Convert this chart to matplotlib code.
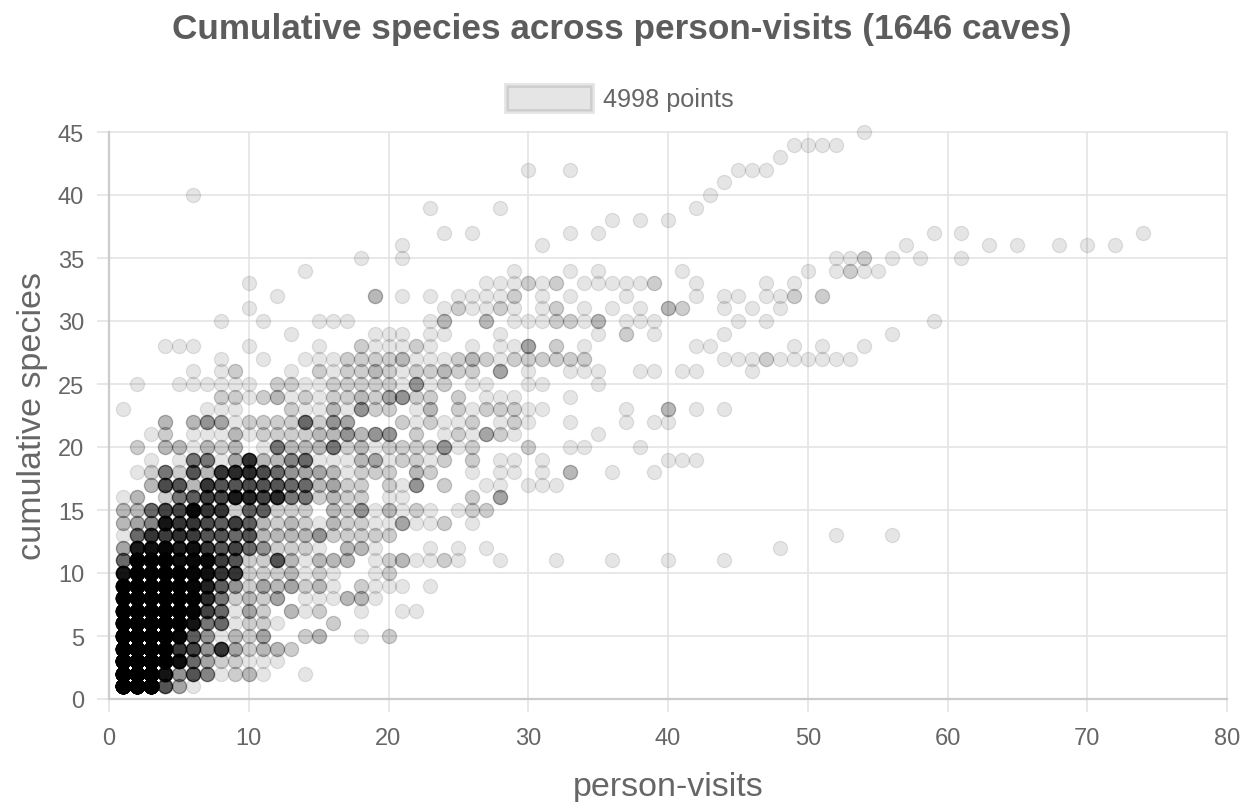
from matplotlib import pyplot as plt
from matplotlib.patches import Patch
import matplotlib as mpl

mpl.rcParams['font.family'] = ['Liberation Sans', 'DejaVu Sans']

# values: per species level, the person-visits and how many points overlap there
visits_01 = [1, 2, 3, 4, 5, 6]
counts_01 = [130, 130, 130, 10, 4, 1]
visits_02 = [1, 2, 3, 4, 5, 6, 7, 8, 9, 10, 11, 14]
counts_02 = [110, 110, 90, 22, 5, 10, 6, 1, 2, 3, 1, 1]
visits_03 = [1, 2, 3, 4, 5, 6, 7, 8, 9, 10, 11, 12]
counts_03 = [100, 100, 100, 40, 25, 8, 4, 2, 2, 1, 1, 1]
visits_04 = [1, 2, 3, 4, 5, 6, 7, 8, 9, 10, 11, 12, 13]
counts_04 = [85, 85, 85, 40, 14, 12, 5, 14, 4, 2, 3, 3, 2]
visits_05 = [1, 2, 3, 4, 5, 6, 7, 8, 9, 10, 11, 14, 15, 18, 20]
counts_05 = [75, 75, 75, 70, 30, 9, 5, 1, 3, 2, 4, 2, 3, 1, 2]
visits_06 = [1, 2, 3, 4, 5, 6, 7, 8, 9, 10, 11, 12, 16]
counts_06 = [65, 65, 65, 70, 40, 22, 7, 8, 1, 2, 2, 1, 2]
visits_07 = [1, 2, 3, 4, 5, 6, 7, 8, 9, 10, 11, 13, 14, 15, 18, 21, 22]
counts_07 = [55, 55, 55, 70, 40, 32, 12, 8, 1, 4, 2, 3, 1, 2, 1, 1, 1]
visits_08 = [1, 2, 3, 4, 5, 6, 7, 8, 9, 10, 11, 12, 14, 15, 16, 17, 18, 19]
counts_08 = [50, 50, 50, 60, 45, 35, 16, 7, 2, 3, 2, 4, 1, 1, 1, 3, 3, 1]
visits_09 = [1, 2, 3, 4, 5, 6, 7, 8, 9, 10, 11, 12, 13, 14, 15, 16, 18, 19, 20, 21, 23]
counts_09 = [40, 60, 55, 55, 40, 30, 18, 9, 5, 2, 4, 3, 4, 2, 3, 1, 2, 1, 1, 1, 1]
visits_10 = [1, 2, 3, 4, 5, 6, 7, 8, 9, 10, 11, 12, 13, 14, 15, 16, 19, 20]
counts_10 = [22, 50, 45, 45, 45, 30, 24, 14, 14, 2, 2, 2, 3, 1, 2, 1, 1, 2]
visits_11 = [1, 2, 3, 4, 5, 6, 7, 8, 9, 10, 11, 12, 13, 14, 15, 16, 17, 19, 20, 21, 22, 23, 24, 25, 28, 32, 36, 40, 44]
counts_11 = [8, 50, 40, 40, 25, 28, 28, 13, 10, 2, 2, 10, 3, 1, 3, 3, 3, 1, 2, 3, 1, 1, 2, 1, 1, 1, 1, 1, 1]
visits_12 = [1, 2, 3, 4, 5, 6, 7, 8, 9, 10, 11, 12, 13, 14, 15, 17, 18, 19, 23, 25, 27, 48]
counts_12 = [4, 20, 24, 30, 20, 24, 14, 10, 12, 8, 5, 2, 2, 2, 1, 3, 3, 1, 1, 1, 1, 1]
visits_13 = [1, 2, 3, 4, 5, 6, 7, 8, 9, 10, 11, 12, 13, 14, 15, 16, 17, 18, 19, 20, 52, 56]
counts_13 = [1, 8, 14, 13, 15, 13, 10, 10, 8, 10, 3, 3, 3, 3, 5, 2, 2, 2, 2, 2, 1, 1]
visits_14 = [1, 2, 3, 4, 5, 6, 7, 8, 9, 10, 11, 12, 13, 14, 15, 16, 17, 18, 19, 20, 21, 22, 23, 24, 26]
counts_14 = [3, 4, 6, 22, 14, 14, 11, 9, 13, 9, 3, 2, 3, 2, 1, 3, 2, 2, 1, 1, 4, 1, 1, 2, 1]
visits_15 = [1, 2, 3, 4, 5, 6, 7, 8, 9, 10, 11, 12, 13, 14, 16, 17, 18, 19, 20, 21, 22, 23, 25, 26, 27]
counts_15 = [3, 3, 8, 12, 12, 28, 14, 14, 2, 9, 9, 2, 2, 2, 3, 2, 5, 1, 3, 1, 2, 1, 1, 2, 2]
visits_16 = [1, 2, 4, 5, 6, 7, 8, 9, 10, 11, 12, 13, 14, 15, 16, 17, 18, 20, 21, 26, 28]
counts_16 = [1, 3, 2, 7, 9, 13, 12, 20, 17, 12, 16, 7, 7, 2, 3, 2, 2, 1, 1, 2, 4]
visits_17 = [3, 4, 5, 6, 7, 8, 9, 10, 11, 12, 13, 14, 15, 16, 17, 18, 20, 21, 22, 24, 27, 28, 30, 31, 32]
counts_17 = [3, 11, 10, 3, 14, 10, 10, 11, 10, 10, 8, 8, 3, 4, 2, 2, 2, 1, 5, 2, 1, 1, 1, 1, 1]
visits_18 = [2, 3, 4, 5, 6, 7, 8, 9, 10, 11, 12, 13, 14, 15, 16, 17, 18, 19, 20, 22, 23, 26, 28, 29, 31, 33, 36, 39]
counts_18 = [1, 2, 7, 2, 10, 3, 14, 16, 16, 11, 8, 5, 4, 4, 3, 1, 2, 2, 2, 3, 2, 1, 1, 1, 1, 3, 1, 1]
visits_19 = [3, 5, 6, 7, 8, 9, 10, 11, 12, 13, 14, 15, 16, 17, 18, 19, 20, 21, 22, 23, 24, 26, 28, 29, 31, 40, 41, 42]
counts_19 = [1, 1, 7, 7, 1, 4, 15, 3, 3, 6, 8, 1, 1, 1, 3, 4, 1, 2, 2, 1, 2, 2, 1, 1, 1, 1, 1, 1]
visits_20 = [2, 4, 5, 6, 7, 8, 9, 11, 12, 13, 14, 15, 16, 17, 18, 19, 20, 21, 22, 23, 24, 25, 26, 30, 33, 34, 38]
counts_20 = [2, 3, 3, 1, 3, 2, 3, 1, 7, 3, 3, 3, 7, 2, 3, 1, 2, 2, 2, 2, 5, 1, 2, 2, 1, 1, 1]
visits_21 = [3, 4, 6, 7, 8, 9, 10, 11, 12, 13, 14, 15, 16, 17, 18, 19, 20, 22, 24, 25, 26, 27, 28, 29, 35]
counts_21 = [1, 2, 1, 1, 1, 3, 1, 2, 2, 2, 2, 3, 3, 5, 3, 5, 5, 2, 1, 2, 1, 4, 2, 1, 1]
visits_22 = [4, 6, 7, 8, 9, 10, 11, 12, 13, 14, 15, 16, 17, 21, 22, 23, 24, 25, 26, 28, 29, 30, 33, 37, 39, 40]
counts_22 = [3, 3, 5, 4, 1, 2, 2, 2, 2, 8, 2, 5, 4, 2, 1, 2, 1, 1, 2, 1, 2, 1, 1, 1, 1, 1]
visits_23 = [1, 7, 8, 9, 13, 14, 15, 16, 17, 18, 19, 20, 22, 23, 25, 26, 27, 28, 29, 30, 31, 37, 40, 42, 44]
counts_23 = [1, 1, 1, 1, 2, 1, 1, 3, 1, 5, 2, 2, 1, 3, 2, 1, 2, 2, 2, 1, 1, 1, 3, 1, 1]
visits_24 = [8, 9, 10, 11, 12, 13, 14, 15, 16, 17, 18, 19, 20, 21, 22, 23, 25, 27, 28, 29, 33]
counts_24 = [2, 2, 1, 2, 3, 1, 2, 1, 2, 2, 3, 2, 4, 5, 2, 2, 2, 1, 1, 1, 1]
visits_25 = [2, 5, 6, 7, 8, 9, 10, 12, 13, 14, 15, 16, 17, 18, 19, 20, 21, 22, 23, 24, 26, 27, 30, 31, 35]
counts_25 = [1, 1, 1, 1, 1, 1, 1, 2, 2, 1, 1, 2, 2, 2, 2, 2, 1, 5, 1, 2, 1, 1, 1, 1, 1]
visits_26 = [6, 8, 9, 13, 15, 16, 17, 18, 19, 20, 21, 22, 23, 24, 25, 26, 28, 30, 33, 34, 35, 38, 39, 41, 42, 46]
counts_26 = [1, 1, 2, 1, 2, 1, 2, 2, 3, 2, 1, 2, 2, 3, 2, 2, 4, 1, 1, 1, 1, 1, 1, 1, 1, 1]
visits_27 = [8, 11, 14, 15, 16, 17, 18, 19, 20, 21, 22, 23, 24, 25, 26, 27, 28, 29, 30, 31, 32, 33, 34, 44, 45, 46, 47, 48, 49, 50, 51, 52, 53]
counts_27 = [1, 1, 1, 1, 1, 2, 2, 2, 2, 3, 1, 1, 1, 2, 3, 2, 1, 2, 2, 2, 2, 2, 2, 1, 1, 1, 2, 1, 1, 1, 1, 1, 1]
visits_28 = [4, 5, 6, 10, 15, 18, 19, 20, 21, 22, 23, 26, 28, 29, 30, 32, 34, 42, 43, 49, 51, 54]
counts_28 = [1, 1, 1, 1, 1, 2, 1, 1, 1, 2, 1, 1, 1, 1, 4, 2, 1, 1, 1, 1, 1, 1]
visits_29 = [13, 19, 20, 21, 23, 24, 28, 35, 37, 39, 44, 56]
counts_29 = [1, 1, 1, 1, 1, 1, 1, 1, 2, 1, 1, 1]
visits_30 = [8, 11, 15, 16, 17, 23, 24, 27, 29, 30, 31, 32, 33, 34, 35, 37, 38, 39, 45, 47, 59]
counts_30 = [1, 1, 1, 1, 1, 1, 3, 3, 1, 1, 1, 2, 2, 1, 3, 1, 1, 1, 1, 1, 1]
visits_31 = [10, 24, 25, 26, 27, 28, 29, 31, 32, 34, 36, 38, 40, 41, 44, 46, 48]
counts_31 = [1, 1, 2, 1, 1, 2, 1, 1, 2, 1, 1, 1, 3, 2, 1, 1, 1]
visits_32 = [12, 19, 21, 23, 25, 26, 27, 28, 29, 31, 33, 37, 42, 44, 45, 47, 48, 49, 51]
counts_32 = [1, 3, 1, 1, 1, 1, 1, 1, 2, 1, 1, 1, 1, 1, 1, 1, 1, 2, 2]
visits_33 = [10, 27, 28, 29, 30, 31, 32, 34, 35, 36, 37, 38, 39, 42, 47, 49]
counts_33 = [1, 1, 1, 1, 2, 1, 2, 1, 1, 1, 1, 1, 2, 1, 1, 1]
visits_34 = [14, 29, 33, 35, 41, 50, 52, 53, 54, 55]
counts_34 = [1, 1, 1, 1, 1, 1, 1, 2, 1, 1]
visits_35 = [18, 21, 52, 53, 54, 56, 58, 61]
counts_35 = [1, 1, 1, 1, 2, 1, 1, 1]
visits_36 = [21, 31, 57, 63, 65, 68, 70, 72]
counts_36 = [1, 1, 1, 1, 1, 1, 1, 1]
visits_37 = [24, 26, 33, 35, 59, 61, 74]
counts_37 = [1, 1, 1, 1, 1, 1, 1]
visits_38 = [36, 38, 40]
counts_38 = [1, 1, 1]
visits_39 = [23, 28, 42]
counts_39 = [1, 1, 1]
visits_40 = [6, 43]
counts_40 = [1, 1]
visits_41 = [44]
counts_41 = [1]
visits_42 = [30, 33, 45, 46, 47]
counts_42 = [1, 1, 1, 1, 1]
visits_43 = [48]
counts_43 = [1]
visits_44 = [49, 50, 51, 52]
counts_44 = [1, 1, 1, 1]
visits_45 = [54]
counts_45 = [1]

x_ticks = [0, 10, 20, 30, 40, 50, 60, 70, 80]
y_ticks = [0, 5, 10, 15, 20, 25, 30, 35, 40, 45]

#put the cells back into overlapping points
px = []
py = []
for s in range(1, 46):
    vis = globals()['visits_%02d' % s]
    cnt = globals()['counts_%02d' % s]
    for v, n in zip(vis, cnt):
        px += [v]*n
        py += [s]*n

grey = '#666666'

f = plt.figure(figsize=(12.5, 8.03), dpi=100)
ax = f.add_axes([109/1250, 1-700/803, (1227-109)/1250, (700-133)/803])

ax.scatter(px, py, s=104, facecolor=(0, 0, 0, 0.1), edgecolor=(0, 0, 0, 0.1), linewidth=0.9, clip_on=False, zorder=3)

ax.set_xlim(0, 80)
ax.set_ylim(0, 45)
ax.set_xticks(x_ticks)
ax.set_yticks(y_ticks)
ax.grid(color='#e4e4e4', linewidth=1.2)
ax.set_axisbelow(True)
for line in ax.get_xgridlines() + ax.get_ygridlines():
    line.set_clip_on(False)

ax.tick_params(length=9, width=1.2, color='#e4e4e4', labelsize=17, labelcolor=grey)
ax.tick_params('x', pad=11)
ax.tick_params('y', pad=9)

ax.spines['top'].set_visible(False)
ax.spines['right'].set_visible(False)
ax.spines['left'].set_color('#cccccc')
ax.spines['bottom'].set_color('#cccccc')
ax.spines['left'].set_linewidth(1.6)
ax.spines['bottom'].set_linewidth(1.6)

ax.set_xlabel('person-visits', fontsize=24.5, color=grey, labelpad=16)
ax.set_ylabel('cumulative species', fontsize=24.5, color=grey, labelpad=7)

f.text(622/1250, 1-29/803, 'Cumulative species across person-visits (1646 caves)', fontsize=25.3,
       fontweight='bold', color='#5c5c5c', ha='center', va='center')

handle = Patch(facecolor=(0, 0, 0, 0.1), edgecolor=(0, 0, 0, 0.1), linewidth=3.5)
ax.legend([handle], ['4998 points'], loc='lower center', bbox_to_anchor=(0.457, 1.0), frameon=False,
          handlelength=3.4, handleheight=1.2, handletextpad=0.45, fontsize=18.2, labelcolor=grey, borderaxespad=0.42)

plt.savefig('out.png', dpi=100)
